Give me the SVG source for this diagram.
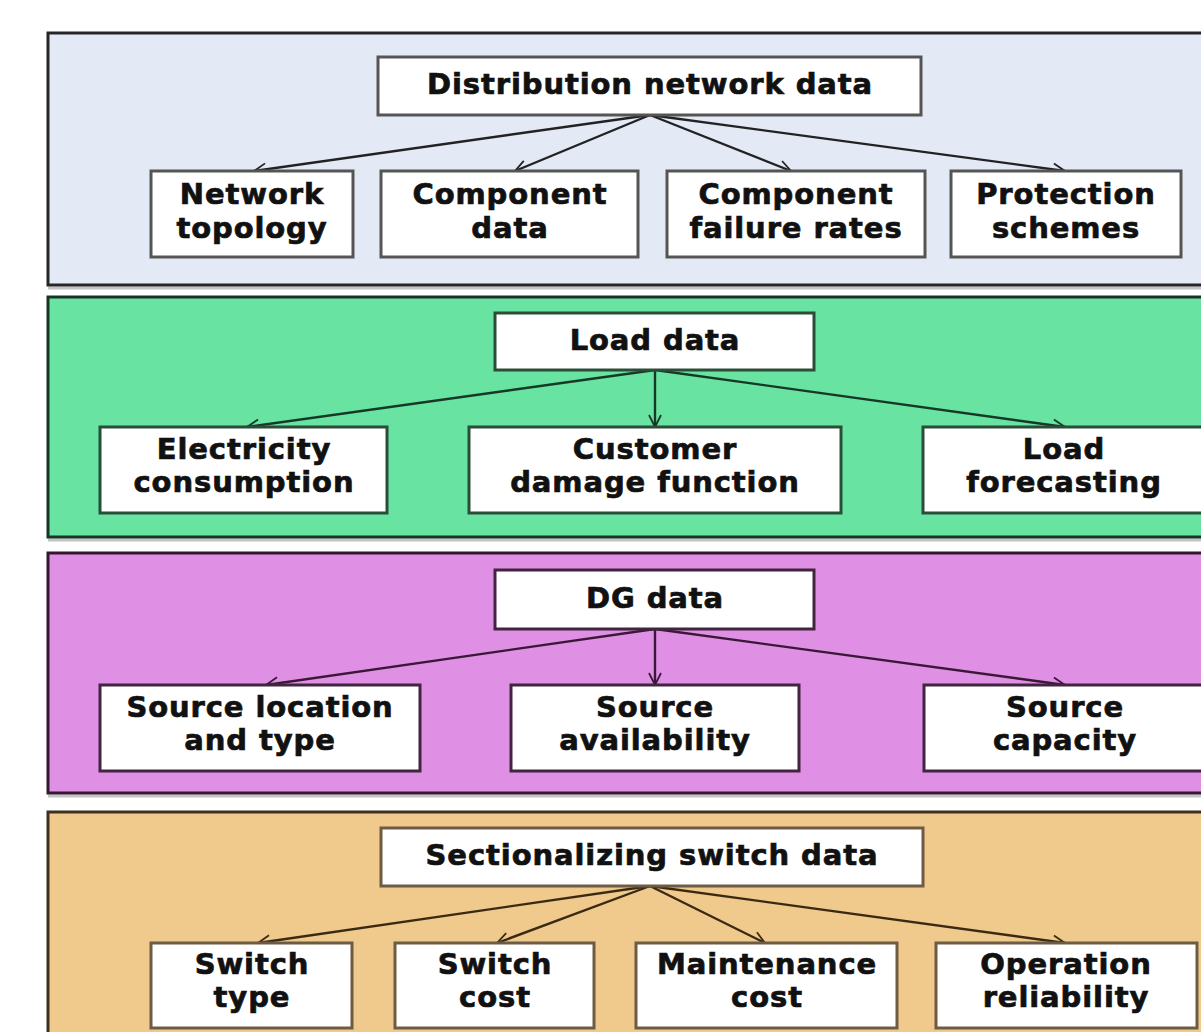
<svg xmlns="http://www.w3.org/2000/svg" width="1201" height="1032" viewBox="0 0 1201 1032">
<defs>
<style>
.panel{stroke-width:3}
.shadow{fill:none;stroke:#c4c4c4;stroke-width:3}
.box{fill:#ffffff;stroke-width:3}
.t{font-family:"DejaVu Sans","Verdana",sans-serif;font-weight:bold;font-size:29px;letter-spacing:0.9px;fill:#111;stroke:#111;stroke-width:0.7px;text-anchor:middle}
.c{fill:none;stroke-width:2.4}
.p1 .box{stroke:#555}
.p2 .box{stroke:#2a4d38}
.p3 .box{stroke:#41243f}
.p4 .box{stroke:#6e5b43}
</style>
<marker id="a1" viewBox="-14 -8 16 16" refX="0" refY="0" markerWidth="16" markerHeight="16" markerUnits="userSpaceOnUse" orient="auto"><path d="M-12,-6 L0,0 L-12,6" fill="none" stroke="#222" stroke-width="1.8"/></marker>
<marker id="a2" viewBox="-14 -8 16 16" refX="0" refY="0" markerWidth="16" markerHeight="16" markerUnits="userSpaceOnUse" orient="auto"><path d="M-12,-6 L0,0 L-12,6" fill="none" stroke="#163826" stroke-width="1.8"/></marker>
<marker id="a3" viewBox="-14 -8 16 16" refX="0" refY="0" markerWidth="16" markerHeight="16" markerUnits="userSpaceOnUse" orient="auto"><path d="M-12,-6 L0,0 L-12,6" fill="none" stroke="#3a1838" stroke-width="1.8"/></marker>
<marker id="a4" viewBox="-14 -8 16 16" refX="0" refY="0" markerWidth="16" markerHeight="16" markerUnits="userSpaceOnUse" orient="auto"><path d="M-12,-6 L0,0 L-12,6" fill="none" stroke="#3a2a14" stroke-width="1.8"/></marker>
</defs>
<rect width="1201" height="1032" fill="#ffffff"/>

<g id="panels">
<line class="shadow" x1="48" y1="288" x2="1210" y2="288"/>
<rect id="panel-network" class="panel" x="48" y="33" width="1162" height="252" fill="#e4eaf5" stroke="#262626"/>
<line class="shadow" x1="48" y1="540" x2="1210" y2="540"/>
<rect id="panel-load" class="panel" x="48" y="297" width="1162" height="240" fill="#69e3a2" stroke="#173524"/>
<line class="shadow" x1="48" y1="796" x2="1210" y2="796"/>
<rect id="panel-dg" class="panel" x="48" y="553" width="1162" height="240" fill="#e090e4" stroke="#32172f"/>
<rect id="panel-switch" class="panel" x="48" y="812" width="1162" height="240" fill="#f0c98c" stroke="#3e3020"/>
</g>

<g id="connectors">
<g stroke="#222" fill="none">
<line class="c" x1="650" y1="115" x2="254" y2="171" marker-end="url(#a1)"/>
<line class="c" x1="650" y1="115" x2="515" y2="171" marker-end="url(#a1)"/>
<line class="c" x1="650" y1="115" x2="791" y2="171" marker-end="url(#a1)"/>
<line class="c" x1="650" y1="115" x2="1065" y2="171" marker-end="url(#a1)"/>
</g>
<g stroke="#163826" fill="none">
<line class="c" x1="655" y1="370" x2="247" y2="427" marker-end="url(#a2)"/>
<line class="c" x1="655" y1="370" x2="655" y2="427" marker-end="url(#a2)"/>
<line class="c" x1="655" y1="370" x2="1065" y2="427" marker-end="url(#a2)"/>
</g>
<g stroke="#3a1838" fill="none">
<line class="c" x1="655" y1="629" x2="266" y2="685" marker-end="url(#a3)"/>
<line class="c" x1="655" y1="629" x2="655" y2="685" marker-end="url(#a3)"/>
<line class="c" x1="655" y1="629" x2="1065" y2="685" marker-end="url(#a3)"/>
</g>
<g stroke="#3a2a14" fill="none">
<line class="c" x1="650" y1="886" x2="258" y2="943" marker-end="url(#a4)"/>
<line class="c" x1="650" y1="886" x2="497" y2="943" marker-end="url(#a4)"/>
<line class="c" x1="650" y1="886" x2="765" y2="943" marker-end="url(#a4)"/>
<line class="c" x1="650" y1="886" x2="1065" y2="943" marker-end="url(#a4)"/>
</g>
</g>

<g class="p1">
<g id="n-distribution"><rect class="box" x="378" y="57" width="543" height="58"/><text class="t" x="650" y="94">Distribution network data</text></g>
<g id="n-topology"><rect class="box" x="151" y="171" width="202" height="86"/><text class="t" x="252" y="204">Network</text><text class="t" x="252" y="238">topology</text></g>
<g id="n-component"><rect class="box" x="381" y="171" width="257" height="86"/><text class="t" x="510" y="204">Component</text><text class="t" x="510" y="238">data</text></g>
<g id="n-failure"><rect class="box" x="667" y="171" width="258" height="86"/><text class="t" x="796" y="204">Component</text><text class="t" x="796" y="238">failure rates</text></g>
<g id="n-protection"><rect class="box" x="951" y="171" width="230" height="86"/><text class="t" x="1066" y="204">Protection</text><text class="t" x="1066" y="238">schemes</text></g>
</g>

<g class="p2">
<g id="n-load"><rect class="box" x="495" y="313" width="319" height="57"/><text class="t" x="655" y="350">Load data</text></g>
<g id="n-electricity"><rect class="box" x="100" y="427" width="287" height="86"/><text class="t" x="244" y="459">Electricity</text><text class="t" x="244" y="492">consumption</text></g>
<g id="n-damage"><rect class="box" x="469" y="427" width="372" height="86"/><text class="t" x="655" y="459">Customer</text><text class="t" x="655" y="492">damage function</text></g>
<g id="n-forecast"><rect class="box" x="923" y="427" width="284" height="86"/><text class="t" x="1064" y="459">Load</text><text class="t" x="1064" y="492">forecasting</text></g>
</g>

<g class="p3">
<g id="n-dg"><rect class="box" x="495" y="570" width="319" height="59"/><text class="t" x="655" y="608">DG data</text></g>
<g id="n-location"><rect class="box" x="100" y="685" width="320" height="86"/><text class="t" x="260" y="717">Source location</text><text class="t" x="260" y="750">and type</text></g>
<g id="n-availability"><rect class="box" x="511" y="685" width="288" height="86"/><text class="t" x="655" y="717">Source</text><text class="t" x="655" y="750">availability</text></g>
<g id="n-capacity"><rect class="box" x="924" y="685" width="283" height="86"/><text class="t" x="1065" y="717">Source</text><text class="t" x="1065" y="750">capacity</text></g>
</g>

<g class="p4">
<g id="n-switchdata"><rect class="box" x="381" y="828" width="542" height="58"/><text class="t" x="652" y="865">Sectionalizing switch data</text></g>
<g id="n-switchtype"><rect class="box" x="151" y="943" width="201" height="85"/><text class="t" x="252" y="974">Switch</text><text class="t" x="252" y="1007">type</text></g>
<g id="n-switchcost"><rect class="box" x="395" y="943" width="199" height="85"/><text class="t" x="495" y="974">Switch</text><text class="t" x="495" y="1007">cost</text></g>
<g id="n-maintenance"><rect class="box" x="636" y="943" width="261" height="85"/><text class="t" x="767" y="974">Maintenance</text><text class="t" x="767" y="1007">cost</text></g>
<g id="n-reliability"><rect class="box" x="936" y="943" width="261" height="85"/><text class="t" x="1066" y="974">Operation</text><text class="t" x="1066" y="1007">reliability</text></g>
</g>
</svg>
